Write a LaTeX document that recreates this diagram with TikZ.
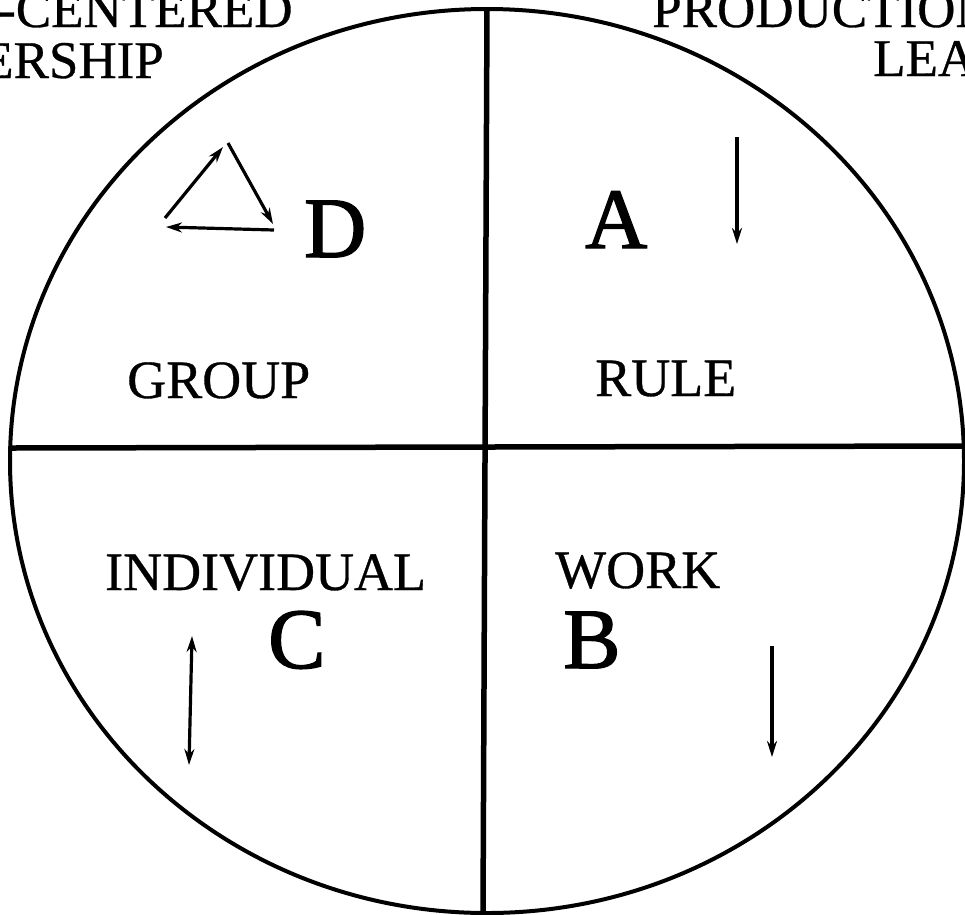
\documentclass[tikz,border=0pt]{standalone}
\usepackage{fontspec}
\setmainfont{Liberation Serif}
\newfontface\inkyserif{Liberation Serif}[FakeBold=1.6]
\newfontface\printserif{Liberation Serif}[FakeBold=0.6]
\usepackage{tikz}
\usetikzlibrary{arrows.meta,positioning,calc}

\begin{document}
\begin{tikzpicture}[x=1pt,y=-1pt,
  bigletter/.style={font=\inkyserif\fontsize{86}{90}\selectfont,inner sep=0pt},
  quadword/.style={font=\printserif\fontsize{54}{60}\selectfont,inner sep=0pt},
  headword/.style={font=\printserif\fontsize{53}{58}\selectfont,inner sep=0pt},
  flowarrow/.style={line width=3.2pt,-{Stealth[length=16pt,width=10pt]}},
  divider/.style={line width=5.5pt}]
  \useasboundingbox (0,0) rectangle (965,914);
  \clip (0,0) rectangle (965,914);
  % outer circle and the two dividers
  \draw[line width=4pt] (487,461) ellipse [x radius=477,y radius=452];
  \coordinate (top) at (487,9);
  \coordinate (bottom) at (483,913);
  \coordinate (left) at (10,448);
  \coordinate (right) at (968,446);
  \draw[divider] (top) -- (bottom);
  \draw[divider] (left) -- (right);
  % headings (cut at the page edge)
  \node[headword,anchor=base west] (empl) at (-2,27) {-CENTERED};
  \node[headword,anchor=base east] (lship) at (164,78) {ERSHIP};
  \node[headword,anchor=base west] (prod) at (652,27) {PRODUCTION};
  \node[headword,anchor=base west] (lead) at (873,76) {LEA};
  % quadrant letters
  \node[bigletter,anchor=base west] (qD) at (304,257) {D};
  \node[bigletter,anchor=base west] (qA) at (585,248) {A};
  \node[bigletter,anchor=base west] (qC) at (268,668) {C};
  \node[bigletter,anchor=base west] (qB) at (563,668) {B};
  % quadrant words
  \node[quadword,anchor=base west] (group) at (127,398) {GROUP};
  \node[quadword,anchor=base west] (rule) at (595,396) {RULE};
  \node[quadword,anchor=base west] (indiv) at (105,590) {INDIVIDUAL};
  \node[quadword,anchor=base west] (work) at (555,588) {WORK};
  % triangle of arrows in D
  \coordinate (t1) at (165,218);
  \coordinate (t2) at (223,147);
  \coordinate (t3) at (228,143);
  \coordinate (t4) at (273,224);
  \coordinate (t5) at (274,230);
  \coordinate (t6) at (166,227);
  \draw[flowarrow] (t1) -- (t2);
  \draw[flowarrow] (t3) -- (t4);
  \draw[flowarrow] (t5) -- (t6);
  % arrows in A, B and C
  \coordinate (a1) at (737,137);
  \coordinate (a2) at (737,244);
  \draw[flowarrow] (a1) -- (a2);
  \coordinate (b1) at (772,646);
  \coordinate (b2) at (772,757);
  \draw[flowarrow] (b1) -- (b2);
  \coordinate (c1) at (192,636);
  \coordinate (c2) at (189,765);
  \draw[flowarrow,{Stealth[length=16pt,width=10pt]}-{Stealth[length=16pt,width=10pt]}] (c1) -- (c2);
\end{tikzpicture}
\end{document}
